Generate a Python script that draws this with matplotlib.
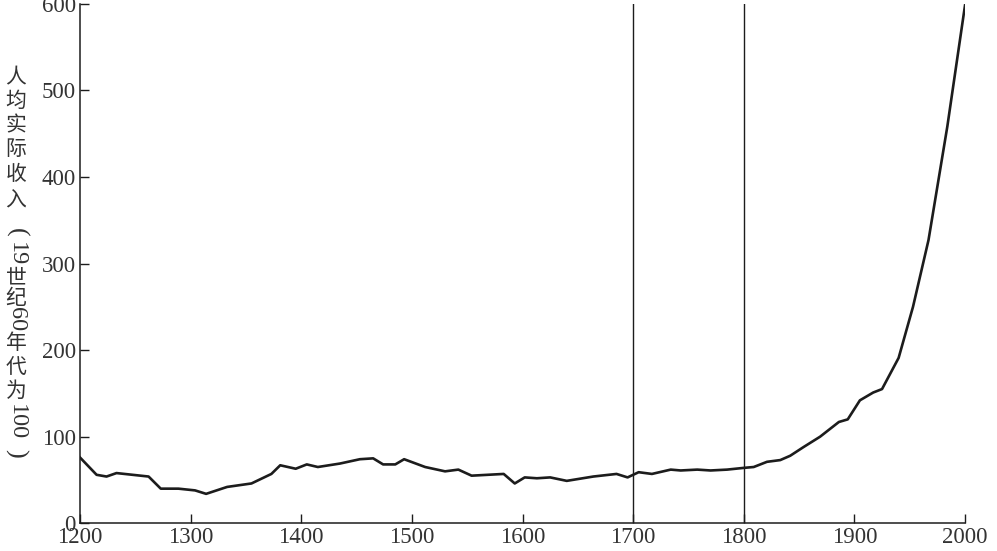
import matplotlib
matplotlib.use("Agg")
import matplotlib.pyplot as plt

# ---- data ----
years = [1200, 1215, 1224, 1233, 1262, 1273, 1289, 1304, 1314, 1333, 1355, 1373,
         1381, 1395, 1405, 1415, 1435, 1453, 1465, 1474, 1485, 1493, 1512, 1530,
         1542, 1554, 1583, 1593, 1602, 1613, 1625, 1640, 1664, 1685, 1695, 1705,
         1717, 1734, 1743, 1758, 1770, 1785, 1800, 1809, 1821, 1833, 1842, 1854,
         1869, 1886, 1894, 1905, 1917, 1925, 1940, 1953, 1967, 1984, 2000]
income = [76, 56, 54, 58, 54, 40, 40, 38, 34, 42, 46, 57,
          67, 63, 68, 65, 69, 74, 75, 68, 68, 74, 65, 60,
          62, 55, 57, 46, 53, 52, 53, 49, 54, 57, 53, 59,
          57, 62, 61, 62, 61, 62, 64, 65, 71, 73, 78, 88,
          100, 117, 120, 142, 151, 155, 191, 250, 327, 458, 598]
marker_years = [1700, 1800]
x_ticks = [1200, 1300, 1400, 1500, 1600, 1700, 1800, 1900, 2000]
y_ticks = [0, 100, 200, 300, 400, 500, 600]
label_parts = ["人", "均", "实", "际", "收", "入", "(", "19", "世", "纪", "60",
               "年", "代", "为", "100", ")"]

W, H = 997, 551
fig = plt.figure(figsize=(W / 100, H / 100), dpi=100)
ax = fig.add_axes([80 / W, 1 - 523.3 / H, (965 - 80) / W, (523.3 - 3.7) / H])

ink = "#1c1c1c"
txt = "#333333"
ax.plot(years, income, color=ink, lw=1.9, solid_joinstyle="round")
for yr in marker_years:
    ax.axvline(yr, color=ink, lw=1.0)

ax.set_xlim(1200, 2000)
ax.set_ylim(0, 600)
ax.set_xticks(x_ticks)
ax.set_yticks(y_ticks)
ax.set_xticklabels([str(v) for v in x_ticks])
ax.set_yticklabels([str(v) for v in y_ticks])
for s in ["top", "right"]:
    ax.spines[s].set_visible(False)
for s in ["left", "bottom"]:
    ax.spines[s].set_linewidth(1.1)
    ax.spines[s].set_color(ink)
ax.tick_params(direction="in", length=6.5, width=1.0, color=ink,
               labelsize=16.5, labelcolor=txt)
ax.tick_params(axis="x", pad=3)
ax.tick_params(axis="y", pad=3)
for lab in ax.get_xticklabels() + ax.get_yticklabels():
    lab.set_fontfamily("Liberation Serif")

# vertical (stacked) y-axis label
centers = [77, 101, 125, 149, 174, 199, 232, 254, 277, 298, 319, 343, 367, 391, 422, 453]
for part, cy in zip(label_parts, centers):
    latin = part.isdigit() or part in "()"
    if part.isdigit():
        size = 17.5
    elif part in "()":
        size = 19
    else:
        size = 15
    fig.text(16 / W, 1 - cy / H, part,
             ha="center", va="center",
             rotation=-90 if latin else 0,
             fontsize=size, color=txt,
             family=["Liberation Serif", "DejaVu Serif"] if latin
             else ["Noto Sans CJK SC", "DejaVu Sans"])

fig.savefig("out.png", dpi=100)
